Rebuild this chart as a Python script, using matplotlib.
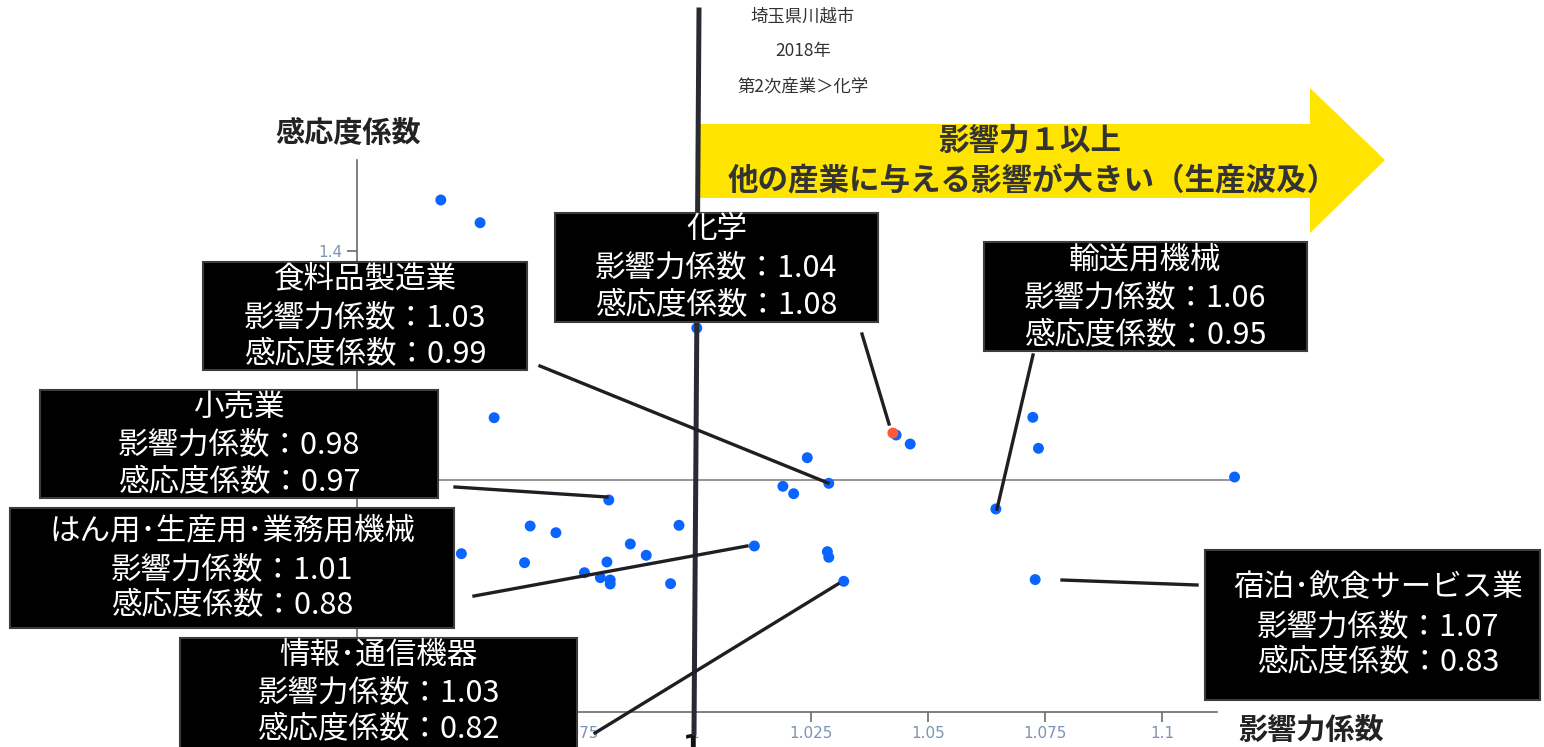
import numpy as np
import matplotlib.pyplot as plt
from matplotlib.patches import Rectangle, Polygon
from matplotlib.lines import Line2D
from matplotlib.ticker import FuncFormatter

plt.rcParams['font.family'] = ['Noto Sans CJK JP', 'DejaVu Sans']

W, H = 1544, 747

# 名前付きの産業（影響力係数, 感応度係数）
names = ['化学', '輸送用機械', '食料品製造業', '小売業',
         'はん用･生産用･業務用機械', '情報･通信機器', '宿泊･飲食サービス業']
eikyo = [1.0425, 1.0645, 1.0288, 0.9818, 1.0129, 1.0320, 1.0729]
kanno = [1.0820, 0.9494, 0.9942, 0.9651, 0.8848, 0.8232, 0.8262]

# その他の産業
other_eikyo = [0.9459, 0.9543, 1.0006, 0.9573, 0.9650, 0.9705, 0.9503, 0.9638,
               0.9864, 0.9898, 0.9814, 0.9968, 0.9766, 0.9800, 0.9821, 0.9821,
               0.9950, 1.0432, 1.0462, 1.0242, 1.0190, 1.0213, 1.0724, 1.0736,
               1.1155, 1.0285, 1.0288]
other_kanno = [1.4887, 1.4490, 1.2653, 1.1087, 0.9197, 0.9080, 0.8714, 0.8557,
               0.8883, 0.8686, 0.8569, 0.9209, 0.8382, 0.8295, 0.8255, 0.8185,
               0.8190, 1.0785, 1.0628, 1.0389, 0.9890, 0.9761, 1.1094, 1.0553,
               1.0052, 0.8749, 0.8651]

x_ticks = [0.95, 0.975, 1.0, 1.025, 1.05, 1.075, 1.1]
y_ticks = [0.6, 0.8, 1.0, 1.2, 1.4]

title_lines = ['埼玉県川越市', '2018年', '第2次産業＞化学']


def fx(px):
    return px / W


def fy(py):
    return 1 - py / H


fig = plt.figure(figsize=(W / 100, H / 100), dpi=100)
ax = fig.add_axes([fx(357), fy(711.7), 860 / W, 551.7 / H])
ax.set_xlim(0.928, 1.11175)
ax.set_ylim(0.5956, 1.5585)

for side in ['top', 'right']:
    ax.spines[side].set_visible(False)
for side in ['left', 'bottom']:
    ax.spines[side].set_color('#6a6a6a')
    ax.spines[side].set_linewidth(1.2)

fmt = FuncFormatter(lambda v, p: '%g' % v)
ax.set_xticks(x_ticks)
ax.set_yticks(y_ticks)
ax.xaxis.set_major_formatter(fmt)
ax.yaxis.set_major_formatter(fmt)
ax.tick_params(direction='out', length=7, width=1.2, color='#6a6a6a',
               labelcolor='#7d93b5', labelsize=11, labelfontfamily='DejaVu Sans')

# 感応度係数 = 1 の基準線
ax.plot([0.928, 1.1145], [1, 1], color='#8c8c8c', lw=1.3, clip_on=False, zorder=2)

ax.scatter(other_eikyo, other_kanno, s=62, c='#0a64ff', edgecolors='none',
           clip_on=False, zorder=3)
ax.scatter(eikyo[0], kanno[0], s=62, c='#ff5a36', edgecolors='none', zorder=3)
ax.scatter(eikyo[1:], kanno[1:], s=62, c='#0a64ff', edgecolors='none', zorder=3)

# タイトル
for t, py in zip(title_lines, [17, 51, 86]):
    fig.text(fx(803), fy(py), t, ha='center', va='center', fontsize=12.5, color='#333333')

# 軸タイトル
fig.text(fx(348), fy(133), '感応度係数', ha='center', va='center', fontsize=21,
         fontweight='bold', color='#222222')
fig.text(fx(1311), fy(730), '影響力係数', ha='center', va='center', fontsize=21,
         fontweight='bold', color='#222222')

# 黄色い矢印
arrow = Polygon([(fx(697), fy(124)), (fx(1310), fy(124)), (fx(1310), fy(88)),
                 (fx(1385), fy(160)), (fx(1310), fy(233)), (fx(1310), fy(198)),
                 (fx(697), fy(198))], closed=True, transform=fig.transFigure,
                facecolor='#ffe400', edgecolor='none', zorder=3)
fig.add_artist(arrow)
fig.text(fx(1030), fy(141), '影響力１以上', ha='center', va='center', fontsize=22,
         fontweight='bold', color='#333333', zorder=4)
fig.text(fx(1033), fy(181), '他の産業に与える影響が大きい（生産波及）', ha='center',
         va='center', fontsize=22, fontweight='bold', color='#333333', zorder=4)

# 影響力係数 = 1 の太線
fig.add_artist(Line2D([fx(699), fx(694)], [fy(10), fy(733)], lw=3.6,
                      color='#2a2a33', transform=fig.transFigure, zorder=4))
fig.text(fx(693), fy(733), '1', ha='center', va='top', fontsize=20,
         fontweight='bold', color='#111111', family='DejaVu Sans')

# 吹き出しボックス: (左, 上, 右, 下), 引き出し線
boxes = [
    ((555, 213, 878, 322), ((862, 334), (889, 424))),
    ((984, 242, 1307, 351), ((1033, 355), (997, 509))),
    ((203, 262, 527, 370), ((540, 366), (828, 483))),
    ((40, 390, 438, 498), ((455, 487), (607, 497))),
    ((10, 508, 454, 628), ((474, 596), (747, 546))),
    ((180, 638, 577, 760), ((595, 733), (838, 584))),
    ((1205, 550, 1540, 700), ((1062, 580), (1197, 585))),
]
text_rows = [(229, 268, 306), (260, 298, 336), (279, 318, 355), (408, 445, 483),
             (531, 570, 606), (655, 693, 730), (588, 627, 663)]

for name, ex, kn, (rect, lead), rows in zip(names, eikyo, kanno, boxes, text_rows):
    x0, y0, x1, y1 = rect
    fig.add_artist(Rectangle((fx(x0), fy(y1)), (x1 - x0) / W, (y1 - y0) / H,
                             transform=fig.transFigure, facecolor='black',
                             edgecolor='#3c3c3c', lw=1.5, zorder=5))
    (ax0, ay0), (ax1, ay1) = lead
    fig.add_artist(Line2D([fx(ax0), fx(ax1)], [fy(ay0), fy(ay1)], lw=2.4,
                          color='#1e1e24', transform=fig.transFigure, zorder=5))
    cx = (x0 + x1) / 2
    if name.startswith('宿泊'):
        cx = 1378
    lines = [name, '影響力係数：%.2f' % ex, '感応度係数：%.2f' % kn]
    for s, py in zip(lines, rows):
        fig.text(fx(cx), fy(py), s, ha='center', va='center', fontsize=22,
                 color='white', zorder=6)

fig.savefig('out.png', dpi=100)
